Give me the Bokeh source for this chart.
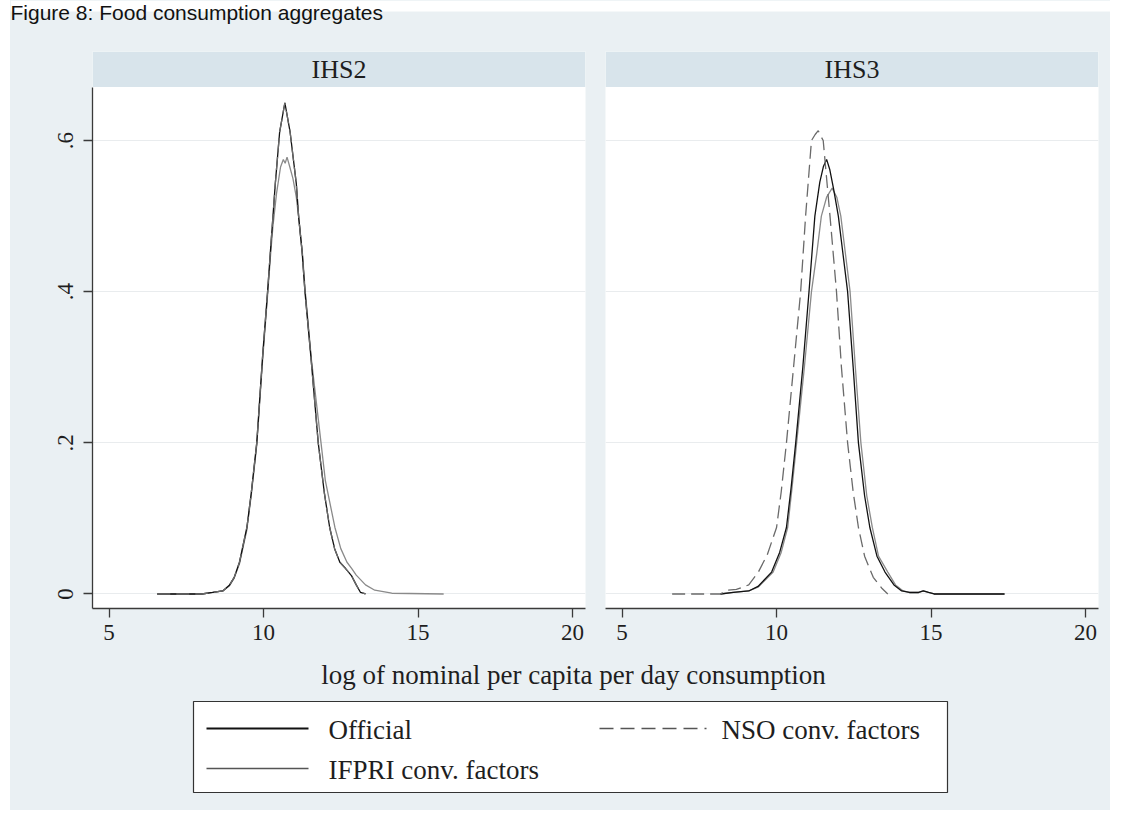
from bokeh.plotting import figure
from bokeh.layouts import column, row
from bokeh.models import Range1d, FixedTicker
from bokeh.core.properties import value
from bokeh.embed import file_html
from bokeh.resources import INLINE

# ---------------- data ----------------
chart_title = "Figure 8: Food consumption aggregates"
panel_names = ["IHS2", "IHS3"]
series_names = ["Official", "NSO conv. factors", "IFPRI conv. factors"]
x_title = "log of nominal per capita per day consumption"
x_ticks = [5, 10, 15, 20]
y_ticks = [0, 0.2, 0.4, 0.6]
y_tick_labels = ["0", ".2", ".4", ".6"]

# IHS2
ihs2_official_x = [6.56, 8.0, 8.35, 8.68, 8.9, 9.05, 9.22, 9.46, 9.6, 9.78, 9.97, 10.13, 10.22, 10.30, 10.38,
                   10.52, 10.69, 10.86, 11.06, 11.14, 11.25, 11.34, 11.53, 11.77, 11.97, 12.14, 12.3, 12.47,
                   12.65, 12.85, 13.0, 13.14, 13.3]
ihs2_official_y = [0, 0, 0.002, 0.004, 0.012, 0.022, 0.042, 0.088, 0.133, 0.20, 0.315, 0.40, 0.452, 0.497, 0.543,
                   0.611, 0.650, 0.611, 0.543, 0.497, 0.452, 0.40, 0.315, 0.20, 0.133, 0.088, 0.06, 0.042,
                   0.034, 0.024, 0.012, 0.002, 0]
ihs2_nso_x = [6.56, 8.0, 8.35, 8.68, 8.9, 9.05, 9.22, 9.46, 9.6, 9.78, 9.97, 10.13, 10.22, 10.30, 10.38,
              10.52, 10.69, 10.86, 11.06, 11.14, 11.25, 11.34, 11.53, 11.77, 11.97, 12.14, 12.3, 12.47,
              12.65, 12.85, 13.0, 13.14, 13.3]
ihs2_nso_y = [0, 0, 0.002, 0.004, 0.012, 0.022, 0.042, 0.088, 0.133, 0.20, 0.315, 0.40, 0.452, 0.497, 0.543,
              0.611, 0.650, 0.611, 0.543, 0.497, 0.452, 0.40, 0.315, 0.20, 0.133, 0.088, 0.06, 0.042,
              0.034, 0.024, 0.012, 0.002, 0]
ihs2_ifpri_x = [6.56, 8.0, 8.35, 8.68, 8.9, 9.05, 9.22, 9.46, 9.6, 9.78, 9.97, 10.13, 10.22, 10.30, 10.42,
                10.55, 10.64, 10.70, 10.76, 10.85, 10.95, 11.06, 11.16, 11.26, 11.35, 11.55, 11.86, 12.0,
                12.31, 12.5, 12.7, 12.85, 13.0, 13.3, 13.6, 14.15, 15.83]
ihs2_ifpri_y = [0, 0, 0.002, 0.004, 0.011, 0.021, 0.04, 0.085, 0.13, 0.197, 0.31, 0.395, 0.445, 0.485, 0.53,
                0.565, 0.575, 0.570, 0.578, 0.565, 0.55, 0.525, 0.49, 0.45, 0.40, 0.31, 0.20, 0.15,
                0.088, 0.06, 0.042, 0.034, 0.025, 0.012, 0.005, 0.001, 0]

# IHS3
ihs3_official_x = [8.18, 8.6, 9.1, 9.4, 9.84, 10.1, 10.32, 10.47, 10.62, 10.85, 11.05, 11.24, 11.4, 11.52, 11.62,
                   11.72, 11.85, 12.0, 12.30, 12.48, 12.65, 12.85, 13.02, 13.25, 13.51, 13.8, 14.05, 14.3,
                   14.6, 14.75, 14.92, 15.1, 17.38]
ihs3_official_y = [0, 0.002, 0.004, 0.01, 0.029, 0.055, 0.088, 0.14, 0.20, 0.30, 0.40, 0.50, 0.545, 0.566, 0.575,
                   0.562, 0.535, 0.50, 0.40, 0.30, 0.20, 0.13, 0.088, 0.05, 0.029, 0.012, 0.004, 0.002,
                   0.002, 0.004, 0.002, 0, 0]
ihs3_nso_x = [6.62, 8.18, 8.4, 8.7, 9.1, 9.41, 9.7, 10.0, 10.15, 10.32, 10.55, 10.78, 10.94, 11.13, 11.25,
              11.35, 11.43, 11.51, 11.73, 11.94, 12.1, 12.3, 12.48, 12.65, 12.85, 13.13, 13.4, 13.6]
ihs3_nso_y = [0, 0, 0.005, 0.006, 0.012, 0.029, 0.052, 0.088, 0.135, 0.20, 0.30, 0.40, 0.50, 0.60, 0.608,
              0.613, 0.606, 0.60, 0.50, 0.40, 0.30, 0.20, 0.135, 0.088, 0.05, 0.022, 0.008, 0]
ihs3_ifpri_x = [8.18, 8.6, 9.1, 9.4, 9.89, 10.15, 10.36, 10.5, 10.65, 10.9, 11.13, 11.3, 11.45, 11.62, 11.8,
                11.95, 12.08, 12.38, 12.55, 12.73, 12.92, 13.10, 13.3, 13.6, 13.85, 14.1, 14.3, 14.6,
                14.75, 14.92, 15.1, 17.38]
ihs3_ifpri_y = [0, 0.002, 0.004, 0.009, 0.029, 0.055, 0.088, 0.14, 0.20, 0.30, 0.40, 0.45, 0.50, 0.525, 0.537,
                0.525, 0.50, 0.40, 0.30, 0.20, 0.13, 0.088, 0.05, 0.029, 0.012, 0.004, 0.002, 0.002,
                0.004, 0.002, 0, 0]

# ---------------- styles / layout ----------------
BG = "#EAF0F3"
HEADER = "#D8E4EB"
GRID = "#E9ECEE"
AXIS = "#3a3a3a"
TXT = "#1e1e1e"
SERIF = "Liberation Serif"
SANS = "Liberation Sans"

C_OFF, W_OFF = "#111111", 1.3
C_NSO, W_NSO, D_NSO = "#6a6a6a", 1.3, "13 6"
C_IFP, W_IFP = "#8a8a8a", 1.3

X0, X1 = 4.463, 20.421
Y0, Y1 = -0.0192, 0.7178
HEADER_Y = 0.6707

TITLE_H = 24
PANEL_H = 636


def make_panel(name, curves, show_y, width, left, right):
    p = figure(width=width, height=PANEL_H, x_range=Range1d(X0, X1), y_range=Range1d(Y0, Y1),
               output_backend="svg", toolbar_location=None,
               min_border_left=left, min_border_right=right, min_border_top=27, min_border_bottom=52,
               y_axis_location="left" if show_y else None)
    p.border_fill_color = BG
    p.background_fill_color = "white"
    p.outline_line_color = None
    p.xgrid.visible = False
    p.ygrid.ticker = FixedTicker(ticks=y_ticks)
    p.ygrid.grid_line_color = GRID
    p.ygrid.grid_line_width = 1

    # panel header strip
    p.quad(left=X0, right=X1, bottom=HEADER_Y, top=Y1, fill_color=HEADER, line_color=None)
    p.text(x=[(X0 + X1) / 2], y=[(HEADER_Y + Y1) / 2], text=[name], text_font=value(SERIF),
           text_font_size="26px", text_align="center", text_baseline="middle", text_color=TXT)

    (ox, oy), (nx, ny), (ix, iy) = curves
    p.line(ix, iy, line_color=C_IFP, line_width=W_IFP)
    p.line(ox, oy, line_color=C_OFF, line_width=W_OFF)
    p.line(nx, ny, line_color=C_NSO, line_width=W_NSO, line_dash=D_NSO)

    ax = p.xaxis[0]
    ax.ticker = FixedTicker(ticks=x_ticks)
    ax.major_tick_out = 9
    ax.major_tick_in = 0
    ax.minor_tick_out = 0
    ax.minor_tick_in = 0
    ax.axis_line_color = AXIS
    ax.axis_line_width = 1.3
    ax.major_tick_line_color = AXIS
    ax.major_tick_line_width = 1.3
    ax.major_label_text_font = SERIF
    ax.major_label_text_font_size = "23px"
    ax.major_label_text_color = TXT
    ax.major_label_standoff = 7

    if show_y:
        ay = p.yaxis[0]
        ay.ticker = FixedTicker(ticks=y_ticks)
        ay.major_label_overrides = {t: l for t, l in zip(y_ticks, y_tick_labels)}
        ay.bounds = (Y0, HEADER_Y)
        ay.major_tick_out = 9
        ay.major_tick_in = 0
        ay.minor_tick_out = 0
        ay.minor_tick_in = 0
        ay.axis_line_color = AXIS
        ay.axis_line_width = 1.3
        ay.major_tick_line_color = AXIS
        ay.major_tick_line_width = 1.3
        ay.major_label_text_font = SERIF
        ay.major_label_text_font_size = "23px"
        ay.major_label_text_color = TXT
        ay.major_label_orientation = "vertical"
        ay.major_label_standoff = 10
    return p


p1 = make_panel(panel_names[0],
                [(ihs2_official_x, ihs2_official_y), (ihs2_nso_x, ihs2_nso_y), (ihs2_ifpri_x, ihs2_ifpri_y)],
                True, 585, 82, 10)
p2 = make_panel(panel_names[1],
                [(ihs3_official_x, ihs3_official_y), (ihs3_nso_x, ihs3_nso_y), (ihs3_ifpri_x, ihs3_ifpri_y)],
                False, 515, 10, 12)

# title strip: white band above the graph region, title text overlapping its edge
tf = figure(width=1100, height=TITLE_H, x_range=Range1d(10, 1110), y_range=Range1d(TITLE_H, 0),
            min_border=0, x_axis_type=None, y_axis_type=None,
            output_backend="svg", toolbar_location=None)
tf.outline_line_color = None
tf.background_fill_color = BG
tf.border_fill_color = BG
tf.quad(left=10, right=1110, top=0, bottom=11, fill_color="white", line_color=None)
tf.text(x=[10], y=[12], text=[chart_title], text_font=value(SANS), text_font_size="21px",
        text_baseline="middle", text_align="left", text_color="#111111")

# bottom strip: x-axis title + legend (page pixel coordinates)
bf = figure(width=1100, height=150, x_range=Range1d(10, 1110), y_range=Range1d(810, 660),
            min_border=0, x_axis_type=None, y_axis_type=None,
            output_backend="svg", toolbar_location=None)
bf.outline_line_color = None
bf.background_fill_color = BG
bf.border_fill_color = BG

bf.text(x=[573], y=[674], text=[x_title], text_font=value(SERIF), text_font_size="27px",
        text_align="center", text_baseline="middle", text_color=TXT)

LEG_L, LEG_R, LEG_T, LEG_B = 193, 947, 701, 792
bf.quad(left=LEG_L, right=LEG_R, top=LEG_T, bottom=LEG_B, fill_color="white",
        line_color="#333333", line_width=1.2)
col1_x, col2_x, sample_w, text_gap = 206, 599, 102, 20
row1_y, row2_y = 728, 768
bf.line([col1_x, col1_x + sample_w], [row1_y, row1_y], line_color=C_OFF, line_width=2)
bf.line([col1_x, col1_x + sample_w], [row2_y, row2_y], line_color="#555555", line_width=1.5)
bf.line([col2_x, col2_x + sample_w + 5], [row1_y, row1_y], line_color="#555555", line_width=1.5,
        line_dash="14 7")
bf.text(x=[col1_x + sample_w + text_gap, col2_x + sample_w + text_gap, col1_x + sample_w + text_gap],
        y=[row1_y + 1.5, row1_y + 1.5, row2_y + 1.5],
        text=[series_names[0], series_names[1], series_names[2]],
        text_font=value(SERIF), text_font_size="27px", text_baseline="middle",
        text_align="left", text_color=TXT)

layout = column(tf, row(p1, p2), bf, styles={"background-color": BG})
layout.margin = (0, 15, 12, 10)
open("out.html", "w").write(file_html(layout, INLINE))
